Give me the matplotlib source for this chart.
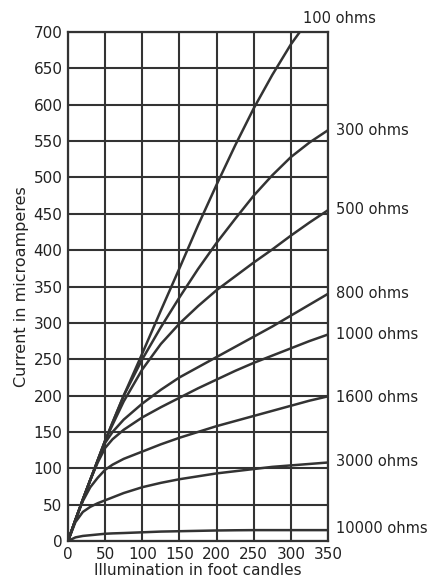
import numpy as np
import matplotlib
matplotlib.use('Agg')
import matplotlib.pyplot as plt

# illumination (foot candles) where each curve was read
x_pts = [0, 10, 20, 30, 40, 50, 60, 75, 100, 125, 150, 175, 200, 225, 250, 275, 300, 325, 350]
x_100 = [0, 10, 20, 30, 40, 50, 60, 75, 100, 125, 150, 175, 200, 225, 250, 275, 300, 312]

# current in microamperes
i_100 = [0, 29, 57, 84, 111, 138, 163, 200, 258, 317, 375, 434, 490, 544, 595, 641, 683, 700]
i_300 = [0, 29, 57, 84, 111, 138, 163, 200, 250, 294, 335, 374, 410, 443, 475, 503, 528, 548, 565]
i_500 = [0, 29, 57, 84, 111, 138, 160, 192, 236, 271, 299, 323, 345, 364, 383, 401, 420, 438, 455]
i_800 = [0, 29, 57, 84, 110, 135, 150, 167, 189, 208, 225, 239, 253, 267, 281, 295, 310, 325, 340]
i_1000 = [0, 29, 57, 84, 108, 128, 140, 153, 170, 184, 197, 210, 222, 234, 245, 255, 265, 275, 284]
i_1600 = [0, 29, 55, 74, 87, 98, 105, 113, 123, 133, 142, 150, 158, 165, 172, 179, 186, 193, 199]
i_3000 = [0, 26, 40, 47, 52, 56, 60, 66, 74, 80, 85, 89, 93, 96, 99, 102, 104, 106, 108]
i_10000 = [0, 5, 7, 8, 9, 10, 10.5, 11, 12, 13, 13.5, 14, 14.5, 14.8, 15, 15, 15, 15, 15]

labels = ['100 ohms', '300 ohms', '500 ohms', '800 ohms', '1000 ohms',
          '1600 ohms', '3000 ohms', '10000 ohms']
# where the right-hand labels sit (data units)
label_y = [719, 565, 456, 340, 284, 198, 109, 17]

xticks = np.arange(0, 351, 50)
yticks = np.arange(0, 701, 50)

ink = '#333333'
txt = '#222222'

fig = plt.figure(figsize=(4.29, 5.81), dpi=100)
ax = fig.add_axes([0.1585, 0.0688, 0.6061, 0.8761])

curves = [(x_100, i_100), (x_pts, i_300), (x_pts, i_500), (x_pts, i_800),
          (x_pts, i_1000), (x_pts, i_1600), (x_pts, i_3000), (x_pts, i_10000)]
for xs, ys in curves:
    ax.plot(xs, ys, color=ink, lw=1.8, solid_joinstyle='round', zorder=3)

ax.set_xlim(0, 350)
ax.set_ylim(0, 700)
ax.set_xticks(xticks)
ax.set_yticks(yticks)
ax.grid(True, color=ink, lw=1.5)
ax.set_axisbelow(True)
for s in ax.spines.values():
    s.set_color(ink)
    s.set_linewidth(1.6)
ax.tick_params(length=0, pad=4, labelsize=11, colors=txt)

# labels at the end of each curve
ax.text(316, label_y[0], labels[0], fontsize=10.5, color=txt,
        va='center', ha='left', clip_on=False)
for lab, yv in zip(labels[1:], label_y[1:]):
    ax.text(361, yv, lab, fontsize=10.5, color=txt,
            va='center', ha='left', clip_on=False)

ax.set_xlabel('Illumination in foot candles', fontsize=11, color=txt, labelpad=1)
ax.set_ylabel('Current in microamperes', fontsize=11.5, color=txt, labelpad=3)

fig.savefig('out.png', dpi=100)
